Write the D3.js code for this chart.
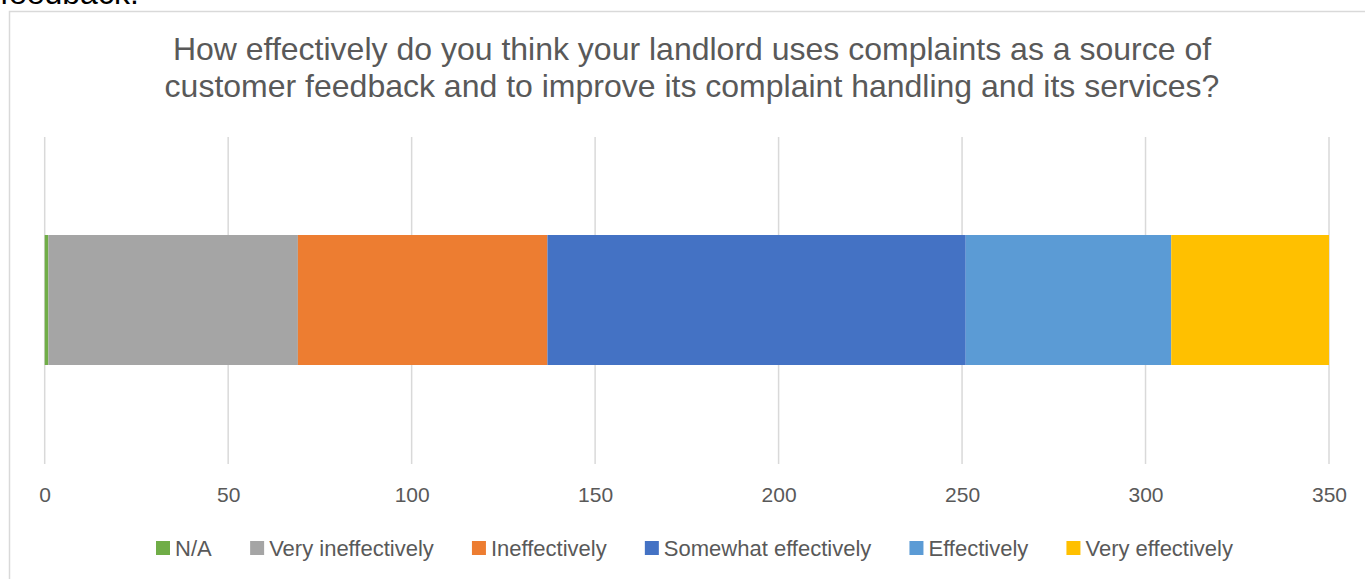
<!DOCTYPE html>
<html>
<head>
<meta charset="utf-8">
<script src="https://cdn.jsdelivr.net/npm/d3@7"></script>
<style>
  html, body { margin: 0; padding: 0; background: #fff; overflow: hidden; }
  svg { display: block; }
</style>
</head>
<body>
<svg id="chart" width="1365" height="579"></svg>
<script>
// ---- data ----
const categories = ["N/A", "Very ineffectively", "Ineffectively", "Somewhat effectively", "Effectively", "Very effectively"];
const values = [1, 68, 68, 114, 56, 43];
const colors = ["#70AD47", "#A5A5A5", "#ED7D31", "#4472C4", "#5B9BD5", "#FFC000"];
const tickValues = [0, 50, 100, 150, 200, 250, 300, 350];
const titleLines = [
  "How effectively do you think your landlord uses complaints as a source of",
  "customer feedback and to improve its complaint handling and its services?"
];
const aboveText = "feedback.";

// ---- drawing ----
const svg = d3.select("#chart");
const W = 1365, H = 579;

// document text cut off at top
svg.append("text")
  .attr("x", 0).attr("y", 4)
  .attr("font-family", "Liberation Sans, Arial, sans-serif")
  .attr("font-size", 32)
  .attr("fill", "#000")
  .text(aboveText);

// chart area border
svg.append("rect")
  .attr("x", 9.5).attr("y", 11.5)
  .attr("width", W + 20).attr("height", H + 20)
  .attr("fill", "#fff")
  .attr("stroke", "#d9d9d9").attr("stroke-width", 1.5);

// title
svg.append("g").selectAll("text")
  .data(titleLines)
  .join("text")
  .attr("x", 692)
  .attr("y", (d, i) => 60 + i * 37)
  .attr("text-anchor", "middle")
  .attr("font-family", "Liberation Sans, Arial, sans-serif")
  .attr("font-size", 32)
  .attr("fill", "#595959")
  .text(d => d);

const x = d3.scaleLinear().domain([0, 350]).range([44.7, 1329]);
const gridTop = 137, gridBottom = 464;

// gridlines
svg.append("g").selectAll("line")
  .data(tickValues)
  .join("line")
  .attr("x1", d => x(d)).attr("x2", d => x(d))
  .attr("y1", gridTop).attr("y2", gridBottom)
  .attr("stroke", "#d9d9d9").attr("stroke-width", 1.5);

// axis labels via d3 axis
const axis = d3.axisBottom(x).tickValues(tickValues).tickSize(0).tickPadding(0).tickFormat(d3.format("d"));
const axG = svg.append("g").attr("transform", `translate(0, ${gridBottom + 23})`).call(axis);
axG.select(".domain").remove();
axG.selectAll("text")
  .attr("font-family", "'Liberation Sans', Arial, sans-serif")
  .attr("font-size", 21)
  .attr("fill", "#595959")
  .attr("dy", "0.35em")
  .attr("y", 8);

// stacked bar
const stackData = [];
let acc = 0;
values.forEach((v, i) => { stackData.push({ cat: categories[i], v0: acc, v1: acc + v, color: colors[i] }); acc += v; });
const barTop = 235, barBottom = 365;
svg.append("g").selectAll("rect")
  .data(stackData)
  .join("rect")
  .attr("x", d => x(d.v0))
  .attr("width", d => x(d.v1) - x(d.v0))
  .attr("y", barTop)
  .attr("height", barBottom - barTop)
  .attr("fill", d => d.color);

// legend
const legendFont = "'Liberation Sans', Arial, sans-serif";
const legendSize = 22;
const lg = svg.append("g");
const items = lg.selectAll("g").data(categories).join("g");
items.append("rect").attr("width", 14).attr("height", 14).attr("y", -7).attr("fill", (d, i) => colors[i]);
items.append("text")
  .attr("x", 19).attr("dy", "0.35em")
  .attr("font-family", legendFont)
  .attr("font-size", legendSize)
  .attr("fill", "#595959")
  .text(d => d);
const widths = [];
items.each(function () { widths.push(this.getBBox().width); });
const legendLeft = 156, legendRight = 1233;
const gap = (legendRight - legendLeft - d3.sum(widths)) / (widths.length - 1);
let lx = legendLeft;
items.attr("transform", (d, i) => {
  const t = `translate(${lx}, 548)`;
  lx += widths[i] + gap;
  return t;
});
</script>
</body>
</html>
